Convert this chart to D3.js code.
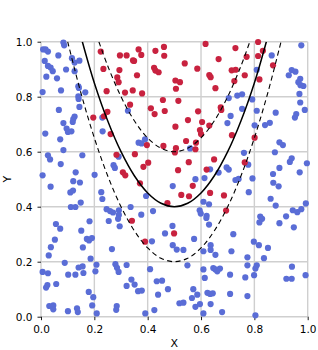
<!DOCTYPE html>
<html>
<head>
<meta charset="utf-8">
<script src="https://cdn.jsdelivr.net/npm/d3@7"></script>
<style>
  body { margin: 0; background: #fff; }
  text { font-family: "DejaVu Sans", sans-serif; }
</style>
</head>
<body>
<svg id="chart" width="318" height="350"></svg>
<script>
// class 0 (blue) points
const blueX = [0.084,0.087,0.008,0.017,0.026,0.065,0.116,0.144,0.126,0.014,0.026,0.036,0.044,0.094,0.126,0.020,0.060,0.140,0.142,0.075,
  0.006,0.166,0.140,0.141,0.144,0.067,0.126,0.121,0.119,0.084,0.096,0.101,0.114,0.016,0.072,0.084,0.155,0.026,0.034,0.074,
  0.130,0.201,0.006,0.121,0.146,0.230,0.231,0.326,0.272,0.277,0.366,0.377,0.390,0.291,0.976,0.865,0.809,0.940,0.954,0.929,
  0.972,0.965,0.973,0.984,0.969,0.736,0.754,0.704,0.792,0.972,0.754,0.809,0.880,0.989,0.957,0.952,0.711,0.699,0.801,0.840,
  0.858,0.894,0.907,0.877,0.559,0.761,0.940,0.933,0.997,0.894,0.970,0.870,0.696,0.704,0.634,0.666,0.777,0.579,0.613,0.729,
  0.741,0.793,0.036,0.110,0.120,0.149,0.112,0.129,0.226,0.230,0.246,0.259,0.270,0.292,0.292,0.289,0.254,0.336,0.295,0.376,
  0.394,0.420,0.056,0.072,0.151,0.182,0.052,0.037,0.029,0.157,0.172,0.180,0.191,0.266,0.416,0.089,0.186,0.208,0.279,0.285,
  0.291,0.321,0.409,0.006,0.026,0.141,0.156,0.159,0.204,0.102,0.129,0.019,0.024,0.057,0.321,0.339,0.351,0.364,0.378,0.179,
  0.196,0.192,0.209,0.031,0.046,0.046,0.101,0.135,0.138,0.284,0.282,0.391,0.425,0.439,0.434,0.454,0.476,0.494,0.609,0.630,
  0.595,0.599,0.621,0.620,0.630,0.779,0.871,0.891,0.861,0.880,0.822,0.829,0.819,0.894,0.919,0.944,0.961,0.976,0.993,0.948,
  0.493,0.465,0.574,0.494,0.509,0.534,0.609,0.636,0.636,0.654,0.721,0.714,0.774,0.798,0.817,0.851,0.836,0.549,0.609,0.614,
  0.646,0.654,0.671,0.661,0.709,0.766,0.774,0.809,0.804,0.799,0.941,0.920,0.940,0.992,0.571,0.586,0.566,0.624,0.634,0.644,
  0.709,0.774,0.519,0.534,0.579,0.596,0.636,0.679,0.609,0.804];
const blueY = [0.997,0.987,0.972,0.972,0.964,0.950,0.940,0.931,0.924,0.930,0.912,0.906,0.893,0.899,0.893,0.873,0.867,0.838,0.832,0.823,
  0.817,0.816,0.801,0.792,0.763,0.752,0.728,0.719,0.708,0.704,0.684,0.672,0.674,0.666,0.645,0.606,0.587,0.587,0.572,0.555,
  0.525,0.516,0.514,0.493,0.488,0.724,0.674,0.749,0.551,0.541,0.633,0.630,0.645,0.582,0.987,0.950,0.898,0.897,0.891,0.878,
  0.865,0.853,0.842,0.839,0.810,0.804,0.809,0.795,0.790,0.779,0.756,0.749,0.742,0.752,0.737,0.724,0.730,0.704,0.696,0.697,
  0.705,0.634,0.624,0.598,0.612,0.596,0.576,0.563,0.558,0.541,0.525,0.519,0.543,0.535,0.536,0.524,0.553,0.500,0.504,0.497,
  0.501,0.503,0.473,0.452,0.459,0.415,0.399,0.399,0.453,0.428,0.391,0.384,0.379,0.387,0.370,0.356,0.348,0.399,0.329,0.371,
  0.439,0.384,0.337,0.320,0.313,0.347,0.280,0.253,0.223,0.252,0.283,0.277,0.286,0.246,0.274,0.196,0.211,0.189,0.191,0.178,
  0.163,0.188,0.173,0.163,0.158,0.179,0.183,0.159,0.165,0.153,0.153,0.106,0.115,0.119,0.112,0.135,0.117,0.093,0.095,0.090,
  0.071,0.041,0.012,0.039,0.041,0.027,0.020,0.030,0.017,0.039,0.025,0.012,0.024,0.080,0.129,0.131,0.100,0.475,0.418,0.409,
  0.387,0.375,0.367,0.359,0.335,0.453,0.487,0.474,0.429,0.404,0.364,0.356,0.343,0.340,0.365,0.387,0.380,0.391,0.412,0.325,
  0.330,0.303,0.283,0.260,0.244,0.243,0.238,0.260,0.243,0.225,0.300,0.238,0.216,0.273,0.260,0.250,0.213,0.187,0.172,0.141,
  0.177,0.172,0.175,0.165,0.153,0.143,0.187,0.187,0.175,0.151,0.182,0.138,0.138,0.151,0.100,0.080,0.068,0.087,0.083,0.085,
  0.083,0.075,0.049,0.051,0.036,0.046,0.046,0.017,0.012,0.005];

// class 1 (red) points
const redX = [0.224,0.296,0.321,0.366,0.376,0.429,0.461,0.462,0.345,0.349,0.234,0.294,0.424,0.429,0.441,0.360,0.286,0.291,0.246,0.315,
  0.344,0.379,0.334,0.412,0.426,0.464,0.457,0.249,0.196,0.236,0.261,0.352,0.283,0.397,0.402,0.384,0.307,0.316,0.459,0.617,
  0.729,0.814,0.832,0.814,0.771,0.539,0.666,0.586,0.715,0.730,0.631,0.636,0.764,0.725,0.819,0.870,0.504,0.521,0.506,0.654,
  0.515,0.674,0.676,0.589,0.551,0.604,0.504,0.631,0.596,0.600,0.544,0.581,0.506,0.502,0.579,0.716,0.801,0.554,0.514,0.649,
  0.621,0.764,0.371,0.341,0.390,0.569,0.526,0.555,0.634,0.686,0.474,0.694,0.499];
const redY = [0.964,0.950,0.950,0.972,0.952,0.967,0.981,0.949,0.932,0.930,0.901,0.897,0.905,0.895,0.889,0.878,0.870,0.853,0.820,0.815,
  0.823,0.812,0.771,0.758,0.737,0.748,0.788,0.745,0.724,0.729,0.664,0.591,0.589,0.624,0.560,0.545,0.525,0.514,0.621,0.992,
  0.977,0.999,0.967,0.948,0.945,0.921,0.937,0.902,0.896,0.898,0.879,0.871,0.878,0.857,0.863,0.914,0.859,0.853,0.829,0.831,
  0.785,0.761,0.752,0.747,0.715,0.708,0.691,0.695,0.679,0.664,0.639,0.633,0.613,0.597,0.609,0.660,0.651,0.562,0.533,0.572,
  0.535,0.561,0.485,0.349,0.273,0.476,0.443,0.438,0.450,0.441,0.413,0.386,0.303];

// decision boundary and margins
const boundX = [0.155,0.2,0.25,0.3,0.35,0.4,0.45,0.5,0.55,0.6,0.65,0.7,0.75,0.8,0.845];
const boundY = [1.0,0.85,0.7125,0.6,0.5125,0.45,0.4125,0.4,0.4125,0.45,0.5125,0.6,0.7125,0.85,1.0];
const upperX = [0.217,0.25,0.3,0.35,0.4,0.45,0.5,0.55,0.6,0.65,0.7,0.75,0.783];
const upperY = [1.0,0.9125,0.8,0.7125,0.65,0.6125,0.6,0.6125,0.65,0.7125,0.8,0.9125,1.0];
const lowerX = [0.1,0.15,0.2,0.25,0.3,0.35,0.4,0.45,0.5,0.55,0.6,0.65,0.7,0.75,0.8,0.85,0.9];
const lowerY = [1.0,0.8125,0.65,0.5125,0.4,0.3125,0.25,0.2125,0.2,0.2125,0.25,0.3125,0.4,0.5125,0.65,0.8125,1.0];

const ticks = [0, 0.2, 0.4, 0.6, 0.8, 1.0];

const svg = d3.select("#chart");
const mLeft = 41, mRight = 307.7, mTop = 41.7, mBottom = 316.7;

const x = d3.scaleLinear().domain([0, 1]).range([mLeft, mRight]);
const y = d3.scaleLinear().domain([0, 1]).range([mBottom, mTop]);

// grid
svg.append("g").selectAll("line").data(ticks).join("line")
  .attr("x1", d => x(d)).attr("x2", d => x(d))
  .attr("y1", mTop).attr("y2", mBottom)
  .attr("stroke", "#cfcfcf").attr("stroke-width", 1.4);
svg.append("g").selectAll("line").data(ticks).join("line")
  .attr("y1", d => y(d)).attr("y2", d => y(d))
  .attr("x1", mLeft).attr("x2", mRight)
  .attr("stroke", "#cfcfcf").attr("stroke-width", 1.4);

// axes (ticks + labels only, no spine)
const xAxis = svg.append("g").attr("transform", `translate(0,${mBottom})`)
  .call(d3.axisBottom(x).tickValues(ticks).tickFormat(d3.format(".1f")).tickSize(3.5).tickPadding(5));
const yAxis = svg.append("g").attr("transform", `translate(${mLeft},0)`)
  .call(d3.axisLeft(y).tickValues(ticks).tickFormat(d3.format(".1f")).tickSize(3.5).tickPadding(5));
[xAxis, yAxis].forEach(a => {
  a.select(".domain").remove();
  a.selectAll(".tick line").attr("stroke", "#000").attr("stroke-width", 0.9);
  a.selectAll(".tick text").attr("fill", "#000").style("font-size", "10.5px")
    .style("font-family", "DejaVu Sans, sans-serif");
});

svg.append("text").attr("x", (mLeft + mRight) / 2).attr("y", 347)
  .attr("text-anchor", "middle").style("font-size", "11px").text("X");
svg.append("text").attr("transform", `translate(11,${(mTop + mBottom) / 2}) rotate(-90)`)
  .attr("text-anchor", "middle").style("font-size", "11px").text("Y");

// points
const blue = blueX.map((d, i) => [d, blueY[i]]);
const red = redX.map((d, i) => [d, redY[i]]);

svg.append("g").selectAll("circle").data(blue).join("circle")
  .attr("cx", d => x(d[0])).attr("cy", d => y(d[1])).attr("r", 3.1)
  .attr("fill", "#5a6dd6");
svg.append("g").selectAll("circle").data(red).join("circle")
  .attr("cx", d => x(d[0])).attr("cy", d => y(d[1])).attr("r", 3.1)
  .attr("fill", "#c8223f");

// boundary curves
svg.append("clipPath").attr("id", "clip").append("rect")
  .attr("x", mLeft).attr("y", mTop).attr("width", mRight - mLeft).attr("height", mBottom - mTop);

const line = d3.line().x(d => x(d[0])).y(d => y(d[1])).curve(d3.curveCatmullRom);
const curves = svg.append("g").attr("clip-path", "url(#clip)");

curves.append("path").datum(boundX.map((d, i) => [d, boundY[i]]))
  .attr("d", line).attr("fill", "none").attr("stroke", "#000").attr("stroke-width", 1.5);
curves.append("path").datum(upperX.map((d, i) => [d, upperY[i]]))
  .attr("d", line).attr("fill", "none").attr("stroke", "#000").attr("stroke-width", 1.1)
  .attr("stroke-dasharray", "5,3.5");
curves.append("path").datum(lowerX.map((d, i) => [d, lowerY[i]]))
  .attr("d", line).attr("fill", "none").attr("stroke", "#000").attr("stroke-width", 1.1)
  .attr("stroke-dasharray", "5,3.5");
</script>
</body>
</html>
